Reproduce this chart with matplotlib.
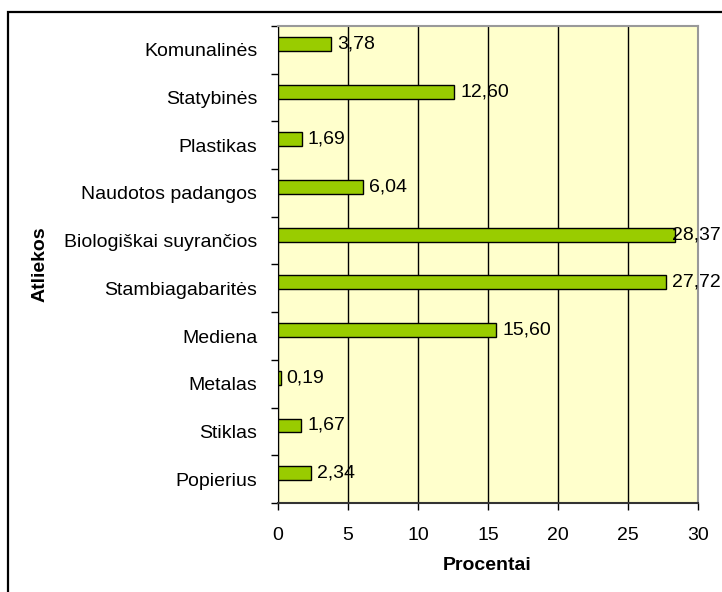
import matplotlib
matplotlib.use("Agg")
import matplotlib.pyplot as plt
from matplotlib.patches import Rectangle
from matplotlib.ticker import FixedLocator

categories = ["Komunalinės", "Statybinės", "Plastikas", "Naudotos padangos",
              "Biologiškai suyrančios", "Stambiagabaritės", "Mediena", "Metalas",
              "Stiklas", "Popierius"]
values = [3.78, 12.60, 1.69, 6.04, 28.37, 27.72, 15.60, 0.19, 1.67, 2.34]
xticks = [0, 5, 10, 15, 20, 25, 30]

plt.rcParams['font.family'] = ['Liberation Sans', 'DejaVu Sans']
FS = 14

fig = plt.figure(figsize=(7.22, 5.92), dpi=100)
fig.patch.set_facecolor('white')
ax = fig.add_axes([278/722, 1 - 503/592, (698 - 278)/722, (503 - 26)/592])
ax.set_facecolor('#FFFFCC')

pos = [i - 0.125 for i in range(len(categories))]
ax.barh(pos, values, height=0.29, color='#99CC00', edgecolor='black',
        linewidth=1.0, zorder=3)
labels = []
for p, v in zip(pos, values):
    t = ax.annotate(f"{v:.2f}".replace('.', ','), xy=(v, p), xytext=(4.3, 0),
                    textcoords='offset points', va='center', ha='left',
                    fontsize=FS, zorder=4, annotation_clip=False)
    labels.append(t)

ax.set_xlim(0, 30)
ax.set_ylim(len(categories) - 0.5, -0.5)
ax.set_xticks(xticks)
ax.set_xticklabels([str(t) for t in xticks], fontsize=FS)
ax.set_yticks(range(len(categories)))
ax.set_yticklabels(categories, fontsize=FS)
ax.tick_params(axis='y', which='major', length=0, pad=15)
ax.yaxis.set_minor_locator(FixedLocator([i - 0.5 for i in range(len(categories) + 1)]))
ax.tick_params(axis='y', which='minor', length=5, width=1, color='black', direction='out')
ax.tick_params(axis='x', length=5, width=1, direction='out', pad=12)

ax.xaxis.grid(True, color='black', linewidth=1.0, zorder=1)
ax.set_axisbelow(True)
for s in ['top', 'right']:
    ax.spines[s].set_color('#999999')
    ax.spines[s].set_linewidth(1.5)
ax.spines['left'].set_color('black')
ax.spines['bottom'].set_color('#333333')
ax.spines['bottom'].set_linewidth(1.5)

fig.text(40/722, 1 - 264/592, "Atliekos", rotation=90, fontsize=FS,
         fontweight='bold', ha='center', va='center')
fig.text(487/722, 1 - 565/592, "Procentai", fontsize=FS, fontweight='bold',
         ha='center', va='center')

fig.patches.append(Rectangle((8/722, -0.2), 2.0, 1 - 12/592 + 0.2,
                             transform=fig.transFigure, fill=False,
                             edgecolor='black', linewidth=1.6, zorder=10))

# keep data labels inside the picture (shift left like the original does)
fig.canvas.draw()
renderer = fig.canvas.get_renderer()
W = fig.bbox.width
for t in labels:
    bb = t.get_window_extent(renderer)
    if bb.x1 > W - 1:
        shift_px = bb.x1 - (W - 1)
        ox, oy = t.xyann
        t.xyann = (ox - shift_px * 72 / fig.dpi, oy)

fig.savefig("out.png", dpi=100)
